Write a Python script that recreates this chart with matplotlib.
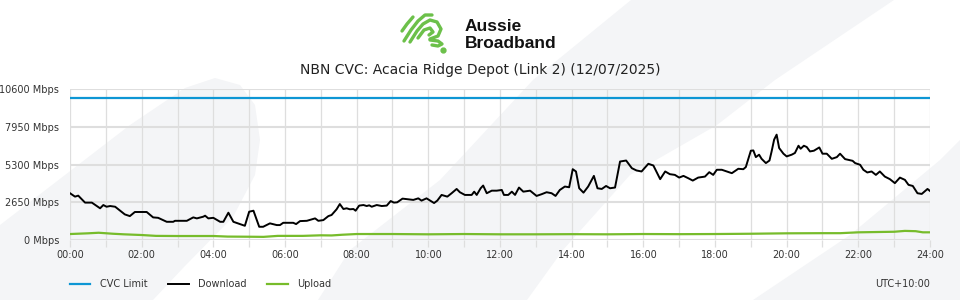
import numpy as np
import matplotlib
matplotlib.use("Agg")
import matplotlib.pyplot as plt
from matplotlib.patches import Polygon
from matplotlib.lines import Line2D

# data (hours since midnight, Mbps)
dl_hours = [
    0.00, 0.14, 0.23, 0.42, 0.61, 0.84, 0.93, 1.02, 1.12, 1.26, 1.40, 1.53, 1.67, 1.81,
    2.14, 2.32, 2.46, 2.70, 2.88, 2.93, 3.26, 3.44, 3.54, 3.72, 3.77, 3.86, 4.00, 4.19,
    4.28, 4.42, 4.56, 4.74, 4.88, 5.00, 5.12, 5.28, 5.39, 5.58, 5.77, 5.86, 5.95, 6.23,
    6.31, 6.42, 6.61, 6.84, 6.93, 7.07, 7.21, 7.30, 7.44, 7.53, 7.63, 7.72, 7.81, 7.91,
    7.97, 8.07, 8.19, 8.28, 8.35, 8.42, 8.56, 8.70, 8.84, 8.95, 9.04, 9.13, 9.28, 9.44,
    9.58, 9.72, 9.81, 9.95, 10.05, 10.16, 10.25, 10.37, 10.53, 10.65, 10.79, 10.88,
    11.02, 11.21, 11.28, 11.35, 11.46, 11.53, 11.63, 11.77, 11.91, 12.05, 12.11, 12.23,
    12.33, 12.42, 12.53, 12.65, 12.84, 13.02, 13.16, 13.30, 13.44, 13.55, 13.67, 13.81,
    13.93, 14.03, 14.12, 14.21, 14.33, 14.46, 14.62, 14.72, 14.84, 14.96, 15.07, 15.21,
    15.35, 15.52, 15.68, 15.81, 15.95, 16.14, 16.28, 16.47, 16.61, 16.74, 16.88, 17.00,
    17.12, 17.25, 17.38, 17.53, 17.72, 17.84, 17.95, 18.05, 18.19, 18.33, 18.47, 18.65,
    18.79, 18.86, 19.00, 19.07, 19.14, 19.23, 19.30, 19.42, 19.52, 19.58, 19.65, 19.72,
    19.79, 19.91, 20.00, 20.14, 20.23, 20.33, 20.39, 20.48, 20.56, 20.65, 20.76, 20.91,
    21.00, 21.12, 21.26, 21.40, 21.49, 21.63, 21.72, 21.84, 21.91, 22.05, 22.14, 22.25,
    22.37, 22.49, 22.60, 22.74, 22.88, 23.02, 23.16, 23.30, 23.40, 23.52, 23.65, 23.77,
    23.93, 24.00,
]
download = [
    3290, 3050, 3120, 2630, 2630, 2230, 2460, 2340, 2390, 2340, 2060, 1800, 1680, 1970,
    1970, 1590, 1560, 1280, 1280, 1350, 1350, 1590, 1520, 1640, 1710, 1520, 1560, 1280,
    1280, 1920, 1280, 1120, 1000, 1990, 2060, 930, 930, 1170, 1050, 1050, 1210, 1210,
    1120, 1330, 1350, 1520, 1350, 1400, 1680, 1760, 2160, 2530, 2180, 2230, 2160, 2180,
    2060, 2420, 2460, 2390, 2440, 2340, 2460, 2390, 2420, 2740, 2630, 2650, 2910, 2860,
    2820, 2930, 2770, 2930, 2770, 2600, 2770, 3170, 3050, 3290, 3590, 3360,
    3170, 3170, 3400, 3170, 3640, 3830, 3290, 3470, 3470, 3520, 3170, 3170,
    3400, 3170, 3690, 3400, 3470, 3100, 3220, 3360, 3290, 3100, 3520, 3760,
    3710, 4980, 4820, 3640, 3330, 3760, 4510, 3640, 3590, 3800, 3640, 3690,
    5520, 5590, 5050, 4890, 4820, 5360, 5240, 4280, 4820, 4630, 4580, 4390,
    4510, 4350, 4180, 4390, 4460, 4770, 4580, 4940, 4940, 4820, 4700, 5010,
    4980, 5130, 6280, 6300, 5830, 6000, 5710, 5410, 5590, 6230, 7060, 7410,
    6470, 6070, 5880, 6000, 6120, 6630, 6420, 6630, 6540, 6230, 6280, 6510,
    6070, 6070, 5710, 5830, 6070, 5690, 5640, 5570, 5410, 5290, 4940, 4750,
    4820, 4580, 4820, 4460, 4280, 4000, 4390, 4230, 3880, 3800, 3290, 3240,
    3590, 3450,
]
ul_hours = [0.0, 0.5, 0.8, 1.2, 1.5, 2.0, 2.4, 3.0, 4.0, 4.4, 5.0, 5.4, 5.8, 6.5, 7.0,
            7.3, 7.6, 8.0, 9.0, 10.0, 11.0, 12.0, 13.0, 14.0, 15.0, 16.0, 17.0, 18.0,
            19.0, 20.0, 21.0, 21.5, 22.0, 22.5, 23.0, 23.3, 23.6, 23.8, 24.0]
upload = [420, 470, 510, 440, 400, 350, 290, 280, 280, 240, 230, 220, 290, 290, 330,
          320, 370, 420, 420, 400, 420, 400, 400, 410, 400, 420, 410, 420,
          440, 470, 480, 480, 540, 560, 580, 640, 620, 540, 540]
cvc_hours = [0, 24]
cvc_limit = [10000, 10000]

y_ticks = [0, 2650, 5300, 7950, 10600]
x_ticks = list(range(0, 25, 2))
x_labels = ["%02d:00" % h for h in x_ticks]

BLUE = "#0d96d4"
GREEN = "#77bc2b"
BG = "#f4f5f7"
GRID = "#dedede"
W, H = 960, 300


def px(x, y):
    # pixel (from top-left) to figure fraction
    return (x / W, 1 - y / H)


fig = plt.figure(figsize=(9.6, 3.0), dpi=100)

# faint background shapes
shapes = [
    [(0, 300), (0, 225), (130, 125), (185, 88), (215, 78), (240, 85), (255, 105),
     (260, 140), (255, 175), (233, 217), (184, 267), (153, 300)],
    [(631, 0), (894, 0), (775, 80), (717, 125), (630, 175), (563, 250), (527, 300),
     (318, 300), (350, 250), (440, 180), (533, 80)],
    [(960, 140), (960, 300), (753, 300), (850, 235), (940, 160)],
]
for s in shapes:
    fig.add_artist(Polygon([px(*p) for p in s], closed=True, transform=fig.transFigure,
                           facecolor=BG, edgecolor="none", zorder=0))

# logo
strokes = [
    [(402, 31), (407, 24), (413, 17)],
    [(404, 41), (411, 30), (418, 21), (425, 15), (432, 15)],
    [(410, 42), (417, 31), (423, 24), (430, 20), (437, 22), (441, 29), (438, 36), (430, 39)],
    [(418, 38), (424, 30), (430, 28), (433, 32), (429, 35)],
    [(430, 40), (438, 41), (442, 44), (438, 46), (432, 45)],
]
for st in strokes:
    xs, ys = zip(*[px(*p) for p in st])
    fig.add_artist(Line2D(xs, ys, transform=fig.transFigure, color="#6cc04a",
                          linewidth=2.4, solid_capstyle="round", solid_joinstyle="round"))
fig.add_artist(Line2D([443 / W], [1 - 50 / H], transform=fig.transFigure, marker="o",
                      markersize=3.5, color="#6cc04a", linestyle="none"))
fig.text(465 / W, 1 - 31 / H, "Aussie", fontsize=12.5, fontweight="bold",
         family="Liberation Sans", color="#111111", va="baseline")
fig.text(465 / W, 1 - 47.5 / H, "Broadband", fontsize=12.5, fontweight="bold",
         family="Liberation Sans", color="#111111", va="baseline")

fig.text(0.5, 1 - 70 / H, "NBN CVC: Acacia Ridge Depot (Link 2) (12/07/2025)",
         ha="center", va="center", fontsize=10, color="#222222")

ax = fig.add_axes([70 / W, 0.2, 860 / W, (240 - 89.3) / H])
ax.set_facecolor("none")
ax.plot(cvc_hours, cvc_limit, color=BLUE, linewidth=1.6, label="CVC Limit", zorder=3)
ax.plot(dl_hours, download, color="black", linewidth=1.4, label="Download", zorder=4)
ax.plot(ul_hours, upload, color=GREEN, linewidth=1.6, label="Upload", zorder=3)

ax.set_xlim(0, 24)
ax.set_ylim(0, 10600)
ax.set_xticks(x_ticks)
ax.set_xticklabels(x_labels)
ax.set_xticks(range(1, 24, 2), minor=True)
ax.set_yticks(y_ticks)
ax.set_yticklabels(["%d Mbps" % v for v in y_ticks])
ax.grid(axis="x", which="both", color=GRID, linewidth=0.9, zorder=1)
ax.grid(axis="y", color=GRID, linewidth=1.5, zorder=1)
for sp in ax.spines.values():
    sp.set_visible(False)
ax.tick_params(axis="x", which="both", length=5, color=GRID, width=0.9,
               labelsize=7, labelcolor="#333333", pad=2)
ax.tick_params(axis="y", length=0, labelsize=7, labelcolor="#333333", pad=8)

fig.legend(loc="center left", bbox_to_anchor=(70 / W, 1 - 284 / H), ncol=3,
           frameon=False, fontsize=7, handlelength=2.1, handletextpad=1.0,
           columnspacing=2.1, borderpad=0, borderaxespad=0, labelcolor="#333333")
fig.text(930 / W, 1 - 284 / H, "UTC+10:00", ha="right", va="center", fontsize=7,
         color="#333333")

fig.savefig("out.png", dpi=100, facecolor="white")
